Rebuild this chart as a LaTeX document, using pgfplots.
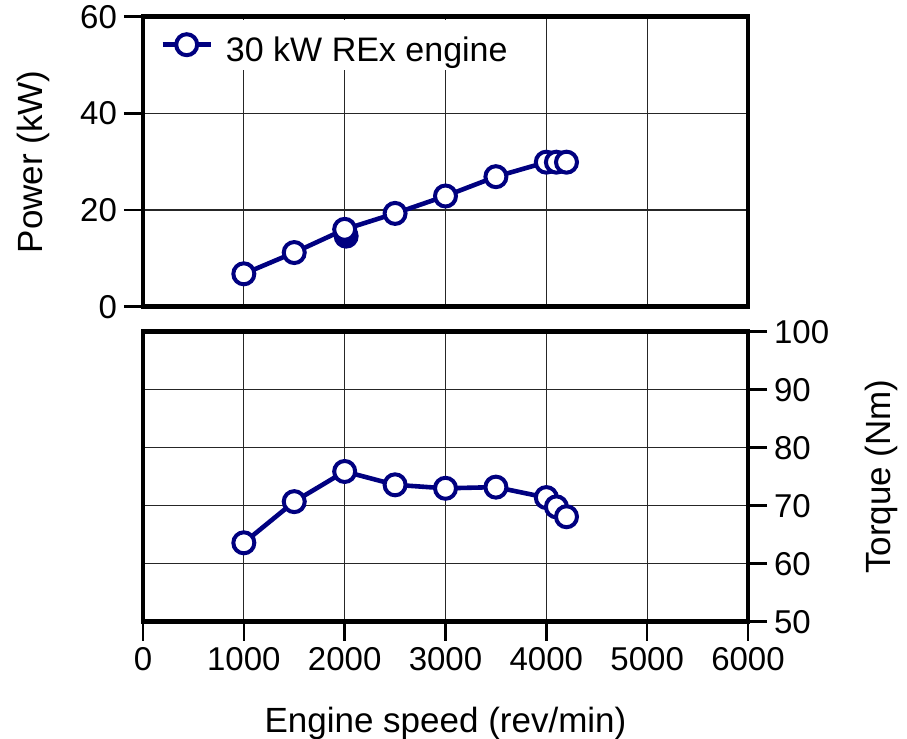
\documentclass[border=0pt]{standalone}
\usepackage{pgfplots}
\pgfplotsset{compat=1.18}
\usepackage{fontspec}
\setmainfont{Liberation Sans}
\definecolor{navyc}{RGB}{0,0,128}
\begin{document}
\begin{tikzpicture}
\path[use as bounding box] (0pt,0pt) rectangle (453.5pt,-369.5pt);
\pgfplotsset{
  myaxis/.style={
    scale only axis, width=302.5pt, height=145pt,
    xmin=0, xmax=6000,
    xtick={0,1000,...,6000},
    scaled x ticks=false, scaled y ticks=false,
    /pgf/number format/1000 sep={},
    /pgf/number format/assume math mode=true,
    axis line style={line width=2.4pt, line cap=rect},
    grid=major, major grid style={line width=0.55pt, black!85},
    every tick/.style={line width=1.3pt, black},
    major tick length=9.5pt,
    tick align=outside,
    ticklabel style={font=\fontsize{16.5}{18}\selectfont},
    label style={font=\fontsize{17.5}{20}\selectfont},
  },
  myline/.style={navyc, line width=2.3pt, mark=*, mark size=5.25pt,
    mark options={fill=white, draw=navyc, line width=2pt, solid}},
}
% top axis: power
\begin{axis}[myaxis,
  at={(71.5pt,-8.35pt)}, anchor=north west,
  ymin=0, ymax=60, ytick={0,20,40,60},
  ytick pos=left,
  xmajorticks=false, xticklabels={},
  ylabel={Power (kW)},
  ylabel style={at={(rel axis cs:-0.1537,0.5)}, anchor=south, inner sep=0pt},
  legend style={at={(rel axis cs:0,1)}, anchor=north west, xshift=3.5pt, yshift=-1.3pt,
    fill=white, draw=none, inner xsep=5pt, inner ysep=0.5pt,
    nodes={inner sep=0pt, text height=20.5pt, text depth=3.5pt},
    column sep=6.5pt,
    font=\fontsize{17}{20}\selectfont},
  legend image code/.code={\draw[mark repeat=2,mark phase=2,#1] plot coordinates {(0pt,0pt) (12pt,0pt) (24pt,0pt)};},
]
\addplot[only marks, mark=*, mark size=5.25pt, mark options={fill=navyc, draw=navyc, line width=2pt}, forget plot]
  coordinates {(2015,14.6)};
\addplot[myline] coordinates {
  (1000,6.8) (1500,11.2) (2000,16.0) (2500,19.3) (3000,22.9)
  (3500,26.9) (4000,29.9) (4100,29.9) (4200,29.9)
};
\addlegendentry{30 kW REx engine}
\end{axis}
% bottom axis: torque
\begin{axis}[myaxis,
  at={(71.5pt,-165.85pt)}, anchor=north west,
  ymin=50, ymax=100, ytick={50,60,...,100},
  ytick pos=right, yticklabel pos=right,
  xtick pos=bottom,
  ylabel={Torque (Nm)},
  ylabel style={at={(rel axis cs:1.1934,0.5)}, anchor=north, inner sep=0pt, rotate=0},
  xlabel={Engine speed (rev/min)},
  xlabel style={at={(rel axis cs:0.5,-0.3838)}, anchor=base, inner sep=0pt},
]
\addplot[myline] coordinates {
  (1000,63.6) (1500,70.7) (2000,75.9) (2500,73.6) (3000,73.0)
  (3500,73.2) (4000,71.4) (4100,69.8) (4200,68.1)
};
\end{axis}
\end{tikzpicture}
\end{document}
